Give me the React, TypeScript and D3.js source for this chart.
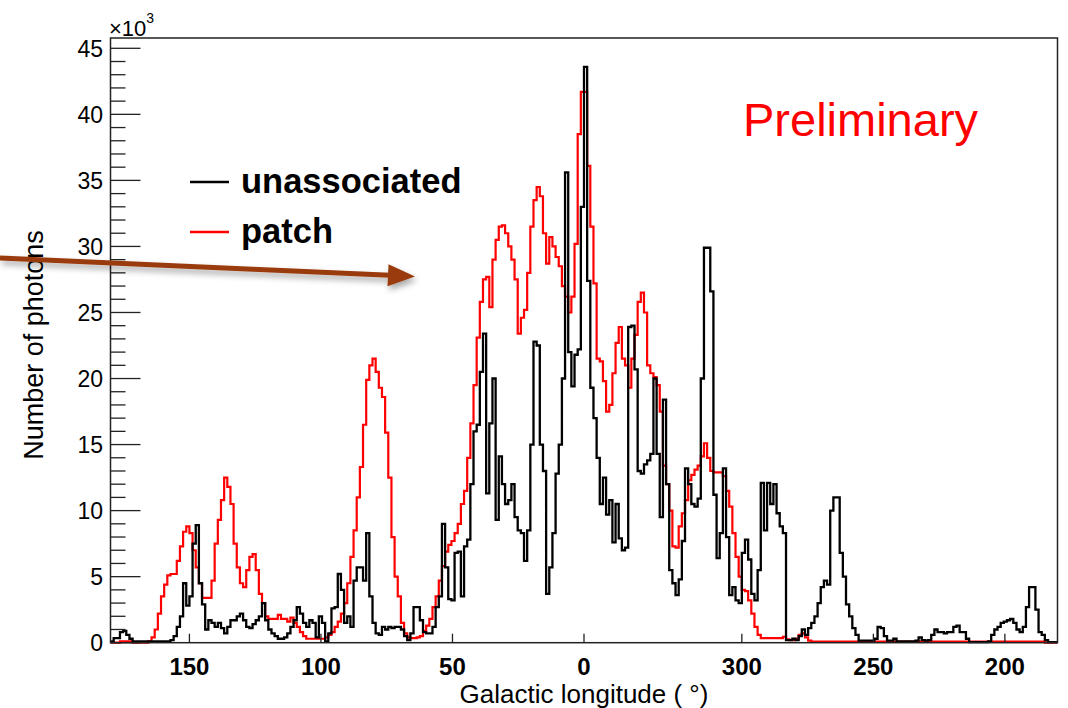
import React from 'react';
import * as d3 from 'd3';

// ---- data (counts in units of 10^3 photons), 300 bins of 1.2 deg from l=180 down to l=-180 ----
const BIN_WIDTH = 1.2;
const LON_START = 180;

const patchCounts: number[] = [
  0, 0, 0, 0.1, 0.1, 0.1, 0.1, 0, 0, 0,
  0, 0, 0.1, 0.4, 1.0, 2.2, 3.5, 4.4, 5.1, 5.2,
  5.2, 6.2, 7.3, 8.4, 8.8, 8.3, 7.0, 5.7, 4.5, 3.4,
  3.4, 3.4, 4.7, 7.5, 9.3, 10.8, 12.5, 11.8, 10.5, 7.5,
  5.7, 4.5, 4.2, 5.5, 6.5, 6.7, 5.5, 3.7, 3.0, 2.0,
  1.8, 1.8, 1.8, 2.1, 1.8, 1.8, 1.6, 1.9, 1.5, 1.2,
  0.8, 0.5, 0.3, 0.3, 0.3, 0.3, 0.3, 0.3, 0.4, 0.6,
  0.8, 1.2, 1.6, 2.2, 3.0, 4.5, 6.5, 8.5, 11.0, 13.3,
  16.5, 19.9, 21.0, 21.5, 20.5, 19.3, 18.6, 15.9, 12.5, 8.0,
  5.0, 3.5, 1.5, 0.7, 0.4, 0.35, 0.35, 0.4, 0.5, 0.9,
  1.3, 1.8, 2.7, 3.5, 4.7, 5.8, 6.9, 7.4, 7.7, 8.3,
  9.0, 10.5, 11.5, 14.0, 16.6, 19.5, 23.1, 25.8, 27.5, 27.7,
  25.4, 29.0, 30.5, 31.5, 31.6, 31.0, 30.0, 29.0, 27.5, 23.4,
  24.6, 25.2, 28.0, 31.5, 33.5, 34.5, 33.8, 31.0, 28.7, 30.7,
  30.0, 29.2, 28.5, 27.0, 26.2, 25.0, 26.2, 30.2, 38.5, 41.7,
  41.7, 36.1, 31.5, 27.2, 21.5, 21.3, 19.8, 17.5, 18.0, 20.4,
  22.7, 23.9, 21.5, 21.0, 19.3, 21.5, 23.3, 25.8, 26.5, 25.0,
  21.0, 20.4, 20.1, 19.5, 17.5, 13.4, 12.0, 10.0, 7.3, 7.2,
  8.8, 9.8, 10.8, 12.3, 12.7, 13.1, 13.4, 14.1, 15.1, 14.0,
  13.0, 12.9, 12.9, 12.9, 12.6, 11.5, 10.3, 8.3, 6.5, 5.0,
  4.0, 3.9, 3.2, 2.2, 1.2, 0.6, 0.35, 0.35, 0.35, 0.35,
  0.35, 0.35, 0.35, 0.45, 0.25, 0.2, 0.2, 0.3, 0.6, 0.7,
  0.4, 0.15, 0.08, 0.08, 0.08, 0.08, 0.08, 0.08, 0.08, 0.08,
  0.08, 0.08, 0.08, 0.08, 0.08, 0.08, 0.08, 0.08, 0.08, 0.08,
  0.08, 0.08, 0.08, 0.08, 0.08, 0.08, 0.08, 0.08, 0.08, 0.08,
  0.08, 0.08, 0.08, 0.08, 0.08, 0.08, 0.08, 0.08, 0.08, 0.08,
  0.08, 0.08, 0.08, 0.08, 0.08, 0.08, 0.08, 0.08, 0.08, 0.08,
  0.08, 0.08, 0.08, 0.08, 0.08, 0.08, 0.08, 0.08, 0.08, 0.08,
  0.08, 0.08, 0.08, 0.08, 0.08, 0.08, 0.08, 0.08, 0.08, 0.08,
  0.08, 0.08, 0.08, 0.08, 0.08, 0.08, 0, 0, 0, 0,
];

const unassociatedCounts: number[] = [
  0.1, 0.35, 0.35, 0.8, 0.9, 0.6, 0.3, 0.1, 0.1, 0.1,
  0.1, 0.1, 0.1, 0.1, 0.1, 0.1, 0.1, 0.1, 0.1, 0.2,
  0.5, 1.2, 2.0, 4.5, 2.8, 3.5, 7.5, 8.9, 4.5, 2.9,
  1.0, 1.7, 1.5, 1.2, 1.5, 1.1, 0.7, 1.2, 1.7, 1.7,
  2.0, 2.2, 1.7, 1.2, 1.1, 1.4, 1.7, 2.0, 3.0, 1.7,
  1.0, 0.7, 0.5, 0.3, 0.3, 0.4, 0.7, 1.2, 1.7, 2.7,
  2.2, 1.5, 1.2, 1.7, 1.5, 0.4, 2.0, 1.5, 0.1, 0.7,
  2.6, 2.7, 5.2, 4.0, 1.5, 2.0, 1.2, 4.7, 5.7, 5.7,
  4.7, 8.3, 3.5, 1.5, 0.7, 0.6, 1.2, 1.0, 1.2, 1.1,
  1.2, 1.2, 1.0, 0.5, 0.2, 0.7, 2.7, 2.7, 1.7, 0.8,
  0.7, 0.7, 1.2, 2.7, 3.5, 9.0, 5.7, 3.3, 3.2, 6.8,
  6.9, 3.5, 7.3, 7.8, 12.0, 16.0, 16.5, 20.5, 23.4, 11.3,
  16.6, 20.0, 9.3, 14.1, 12.0, 10.5, 10.8, 12.0, 9.5, 8.5,
  8.3, 6.2, 8.5, 15.0, 22.8, 22.5, 15.0, 13.0, 3.7, 5.7,
  8.3, 12.8, 15.0, 20.0, 35.6, 22.0, 19.4, 21.8, 22.2, 33.0,
  43.6, 27.4, 19.3, 17.0, 14.0, 10.5, 12.5, 9.7, 10.8, 7.6,
  10.5, 7.9, 7.0, 7.2, 23.9, 24.0, 20.7, 13.0, 12.8, 13.5,
  13.8, 14.3, 20.0, 14.3, 9.5, 18.4, 12.0, 5.5, 4.5, 3.6,
  4.8, 7.7, 13.2, 12.0, 10.5, 10.3, 10.9, 20.0, 29.9, 29.9,
  26.6, 11.2, 6.4, 8.3, 13.2, 8.0, 3.6, 4.2, 3.2, 3.0,
  6.8, 7.8, 6.3, 3.7, 3.2, 5.5, 12.1, 8.5, 12.1, 10.5,
  12.0, 9.8, 8.8, 8.3, 0.2, 0.2, 0.3, 0.2, 0.5, 1.0,
  0.6, 1.1, 1.5, 2.0, 3.0, 4.2, 4.7, 4.4, 10.0, 11.0,
  11.0, 6.8, 5.0, 2.9, 2.0, 1.1, 0.6, 0.15, 0.15, 0.15,
  0.15, 0.15, 0.3, 1.2, 1.1, 0.5, 0.15, 0.15, 0.3, 0.1,
  0.1, 0.1, 0.1, 0.1, 0.1, 0.15, 0.4, 0.2, 0.15, 0.2,
  0.6, 1.0, 0.8, 0.8, 0.7, 0.8, 0.8, 1.2, 1.3, 0.8,
  0.8, 0.3, 0.05, 0.05, 0.05, 0.05, 0.05, 0.05, 0.1, 0.6,
  1.0, 1.2, 1.5, 1.6, 1.7, 1.8, 1.5, 1.0, 0.8, 1.2,
  2.7, 4.2, 4.2, 2.5, 0.8, 0.6, 0.2, 0.05, 0.05, 0.05,
];

const xTickValues = [150, 100, 50, 0, -60, -110, -160];
const xTickLabels = ['150', '100', '50', '0', '300', '250', '200'];
const yMajorTicks = [0, 5, 10, 15, 20, 25, 30, 35, 40, 45];
const yMinorTicks = d3.range(0, 46);

const legendItems = [
  { label: 'unassociated', color: '#000000' },
  { label: 'patch', color: '#ff0000' },
];

const FONT = '"Liberation Sans", Arial, Helvetica, sans-serif';

export default function App() {
  const W = 1068;
  const H = 708;
  const left = 110.5;
  const right = 1057.5;
  const top = 38;
  const bottom = 642.7;

  const x = d3.scaleLinear().domain([180, -180]).range([left, right]);
  const y = d3.scaleLinear().domain([0, 45.78]).range([bottom, top]);

  const stepPath = (vals: number[]) => {
    const pts: [number, number][] = vals.map((v, i) => [LON_START - i * BIN_WIDTH, v]);
    pts.push([LON_START - vals.length * BIN_WIDTH, vals[vals.length - 1]]);
    return (
      d3
        .line<[number, number]>()
        .x((d) => x(d[0]))
        .y((d) => y(d[1]))
        .curve(d3.curveStepAfter)(pts) || ''
    );
  };

  // arrow geometry
  const a0 = [0, 258];
  const tip = [415, 276.5];
  const ang = Math.atan2(tip[1] - a0[1], tip[0] - a0[0]);
  const headLen = 27;
  const headHalf = 11;
  const bx = tip[0] - headLen * Math.cos(ang);
  const by = tip[1] - headLen * Math.sin(ang);
  const nx = -Math.sin(ang);
  const ny = Math.cos(ang);
  const headPts = `${tip[0]},${tip[1]} ${bx + nx * headHalf},${by + ny * headHalf} ${bx - nx * headHalf},${by - ny * headHalf}`;

  return (
    <svg
      width={W}
      height={H}
      viewBox={`0 0 ${W} ${H}`}
      style={{ position: 'absolute', left: 0, top: 0, background: '#ffffff' }}
      fontFamily={FONT}
    >
      <defs>
        <clipPath id="plotClip">
          <rect x={left} y={top} width={right - left} height={bottom - top + 2} />
        </clipPath>
        <filter id="shadow" x="-10%" y="-200%" width="120%" height="500%">
          <feDropShadow dx="2" dy="4" stdDeviation="3" floodColor="#000" floodOpacity="0.35" />
        </filter>
      </defs>
      <rect x={0} y={0} width={W} height={H} fill="#ffffff" />

      {/* histograms */}
      <g clipPath="url(#plotClip)">
        <path d={stepPath(patchCounts)} fill="none" stroke="#ff0000" strokeWidth={2.2} />
        <path d={stepPath(unassociatedCounts)} fill="none" stroke="#000000" strokeWidth={2.3} />
      </g>

      {/* frame */}
      <rect x={left} y={top} width={right - left} height={bottom - top} fill="none" stroke="#222" strokeWidth={1.5} />

      {/* y ticks */}
      {yMinorTicks.map((t) => (
        <line
          key={'ym' + t}
          x1={left}
          x2={left + (t % 5 === 0 ? 30 : 15)}
          y1={y(t)}
          y2={y(t)}
          stroke="#222"
          strokeWidth={1.3}
        />
      ))}
      {yMajorTicks.map((t) => (
        <text key={'yl' + t} x={103} y={y(t) + 8.5} textAnchor="end" fontSize={23} fill="#000">
          {t}
        </text>
      ))}
      <text x={109} y={36} fontSize={22} fill="#000">
        ×10
        <tspan dy={-13} fontSize={14}>
          3
        </tspan>
      </text>

      {/* x ticks */}
      {xTickValues.map((t, i) => (
        <g key={'xt' + t}>
          <line x1={x(t)} x2={x(t)} y1={bottom} y2={bottom - 9} stroke="#222" strokeWidth={1.3} />
          <text x={x(t)} y={675} textAnchor="middle" fontSize={24} fontWeight="bold" fill="#000">
            {xTickLabels[i]}
          </text>
        </g>
      ))}

      {/* axis titles */}
      <text x={584} y={703} textAnchor="middle" fontSize={26} fill="#000">
        Galactic longitude ( °)
      </text>
      <text transform="translate(43,345) rotate(-90)" textAnchor="middle" fontSize={27} fill="#000">
        Number of photons
      </text>

      {/* legend */}
      {legendItems.map((it, i) => (
        <g key={it.label}>
          <line x1={190} x2={229} y1={182 + i * 50} y2={182 + i * 50} stroke={it.color} strokeWidth={2.5} />
          <text x={241} y={193 + i * 50} fontSize={34.5} fontWeight="bold" fill="#000">
            {it.label}
          </text>
        </g>
      ))}

      {/* Preliminary */}
      <text x={743} y={136} fontSize={47} fill="#ff0000">
        Preliminary
      </text>

      {/* arrow */}
      <g filter="url(#shadow)">
        <line x1={a0[0]} y1={a0[1]} x2={bx + 2} y2={by} stroke="#9a3a0c" strokeWidth={5} />
        <polygon points={headPts} fill="#9a3a0c" />
      </g>
    </svg>
  );
}
